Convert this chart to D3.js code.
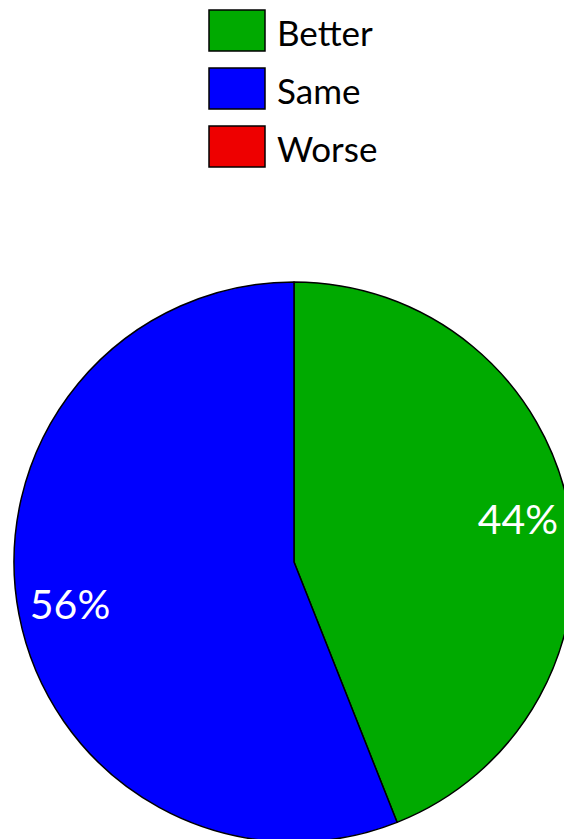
<!DOCTYPE html>
<html><head><meta charset="utf-8">
<script src="https://cdn.jsdelivr.net/npm/d3@7"></script>
<style>html,body{margin:0;padding:0;background:#fff;overflow:hidden}</style>
</head><body>
<svg id="c" width="564" height="839"></svg>
<script>
const categories = ["Better", "Same", "Worse"];
const values = [44, 56, 0];
const colors = ["#00aa00", "#0000ff", "#ee0000"];

const svg = d3.select("#c");
const font = "Lato, 'Open Sans', sans-serif";
const cx = 294, cy = 562, R = 280;

const pie = d3.pie().sort(null).value(d => d.v);
const data = categories.map((c, i) => ({c, v: values[i], col: colors[i]}));
const arcs = pie(data);
const arc = d3.arc().innerRadius(0).outerRadius(R);
const labelArc = d3.arc().innerRadius(228).outerRadius(228);
const total = d3.sum(values);

const g = svg.append("g").attr("transform", `translate(${cx},${cy})`);
g.selectAll("path").data(arcs.filter(a => a.data.v > 0)).join("path")
  .attr("d", arc).attr("fill", d => d.data.col)
  .attr("stroke", "#000").attr("stroke-width", 1.5).attr("stroke-linejoin", "round");
g.selectAll("text").data(arcs.filter(a => a.data.v > 0)).join("text")
  .attr("transform", d => `translate(${labelArc.centroid(d)})`)
  .attr("text-anchor", "middle").attr("dy", "0.36em")
  .attr("font-family", font).attr("font-size", 41).attr("fill", "#fff")
  .text(d => Math.round(d.data.v / total * 100) + "%");

const leg = svg.append("g");
const items = leg.selectAll("g").data(data).join("g")
  .attr("transform", (d, i) => `translate(209,${10 + i * 58})`);
items.append("rect").attr("width", 56).attr("height", 41)
  .attr("fill", d => d.col).attr("stroke", "#000").attr("stroke-width", 1.5);
items.append("text").attr("x", 68).attr("y", 36)
  .attr("font-family", font).attr("font-size", 35).attr("fill", "#000")
  .text(d => d.c);
</script>
</body></html>
